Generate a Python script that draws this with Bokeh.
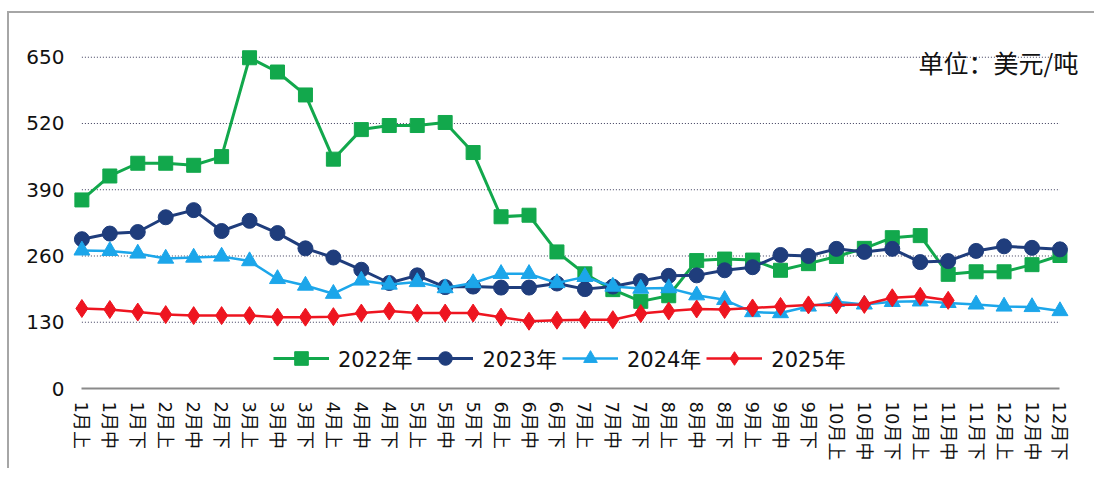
from bokeh.plotting import figure
from bokeh.models import Range1d, FixedTicker, Legend, LegendItem, Label
from bokeh.embed import file_html
from bokeh.resources import INLINE

categories = ["1月上", "1月中", "1月下", "2月上", "2月中", "2月下",
              "3月上", "3月中", "3月下", "4月上", "4月中", "4月下",
              "5月上", "5月中", "5月下", "6月上", "6月中", "6月下",
              "7月上", "7月中", "7月下", "8月上", "8月中", "8月下",
              "9月上", "9月中", "9月下", "10月上", "10月中", "10月下",
              "11月上", "11月中", "11月下", "12月上", "12月中", "12月下"]

y2022 = [370, 417, 442, 442, 438, 455, 649, 621, 576, 450, 508, 516,
         516, 522, 463, 337, 340, 268, 225, 194, 171, 182, 251, 254,
         252, 232, 245, 259, 275, 296, 300, 224, 229, 229, 243, 261]
y2023 = [293, 304, 307, 336, 350, 309, 329, 305, 275, 257, 233, 207,
         222, 199, 200, 198, 198, 206, 195, 200, 211, 221, 222, 232,
         238, 262, 260, 274, 268, 274, 248, 250, 270, 279, 276, 273]
y2024 = [271, 270, 265, 255, 257, 259, 250, 215, 202, 186, 212, 204,
         209, 197, 207, 225, 225, 207, 219, 200, 196, 197, 183, 174,
         150, 148, 161, 170, 165, 170, 171, 168, 165, 161, 160, 152]
y2025 = [157, 155, 150, 145, 143, 143, 143, 140, 140, 141, 148, 152,
         148, 148, 148, 140, 132, 134, 135, 135, 147, 152, 156, 155,
         158, 161, 164, 164, 165, 178, 181, 173]

y_ticks = [0, 130, 260, 390, 520, 650]
unit_text = "单位：美元/吨"

x_all = list(range(len(categories)))

p = figure(width=1087, height=457, output_backend="svg", toolbar_location=None,
           x_range=Range1d(-0.3, len(categories) - 1 + 0.95),
           y_range=Range1d(0, 675),
           min_border_left=64, min_border_right=10,
           min_border_top=31, min_border_bottom=82)
p.styles = {"margin-left": "7px", "margin-top": "11px",
            "border-left": "2px solid #a6a6a6",
            "border-top": "2px solid #a6a6a6"}
p.outline_line_color = None
p.background_fill_color = "white"
p.border_fill_color = "white"
p.xgrid.visible = False
p.ygrid.visible = False

# dotted horizontal gridlines spanning first to last category
grid_vals = y_ticks[1:]
p.segment(x0=[x_all[0]] * len(grid_vals), x1=[x_all[-1]] * len(grid_vals),
          y0=grid_vals, y1=grid_vals, line_color="#3a3a5a",
          line_width=1, line_dash="1 2")

FONT = "DejaVu Sans, Noto Sans CJK SC"

# axes
p.xaxis.ticker = FixedTicker(ticks=x_all)
p.xaxis.major_label_overrides = {i: c for i, c in enumerate(categories)}
p.xaxis.major_label_orientation = "vertical"
p.xaxis.bounds = (x_all[0], x_all[-1])
p.xaxis.axis_line_color = "#8a8a8a"
p.xaxis.axis_line_width = 2
p.xaxis.major_tick_line_color = None
p.xaxis.minor_tick_line_color = None
p.xaxis.major_label_standoff = 7
p.xaxis.major_label_text_font = FONT
p.xaxis.major_label_text_font_size = "18px"
p.xaxis.major_label_text_color = "#111111"

p.yaxis.ticker = FixedTicker(ticks=y_ticks)
p.yaxis.axis_line_color = None
p.yaxis.major_tick_line_color = None
p.yaxis.minor_tick_line_color = None
p.yaxis.major_label_standoff = 3
p.yaxis.major_label_text_font = FONT
p.yaxis.major_label_text_font_size = "20px"
p.yaxis.major_label_text_color = "#111111"

series = [
    ("2022年", y2022, "#12A84C", "square", 14, 3),
    ("2023年", y2023, "#1F3D7C", "circle", 15, 3),
    ("2024年", y2024, "#1CA6EA", "triangle", 16, 2.5),
    ("2025年", y2025, "#EE1520", "diamond", 18, 2.5),
]

items = []
for name, ys, color, marker, size, lw in series:
    xs = x_all[:len(ys)]
    r1 = p.line(xs, ys, line_color=color, line_width=lw)
    r2 = p.scatter(xs, ys, marker=marker, size=size, fill_color=color,
                   line_color=color)
    items.append(LegendItem(label=name, renderers=[r1, r2]))

legend = Legend(items=items, orientation="horizontal", location=(200, 13),
                glyph_width=56, glyph_height=34, label_height=34,
                label_standoff=9, spacing=5, padding=0, margin=0,
                border_line_color=None, background_fill_alpha=0,
                label_text_font=FONT, label_text_font_size="21px",
                label_text_color="#111111")
p.add_layout(legend, "center")

p.add_layout(Label(x=35.66, y=640, text=unit_text, text_align="right",
                   text_baseline="middle", text_font="Noto Sans CJK SC",
                   text_font_size="25px", text_color="#111111"))

open("out.html", "w").write(file_html(p, INLINE))
